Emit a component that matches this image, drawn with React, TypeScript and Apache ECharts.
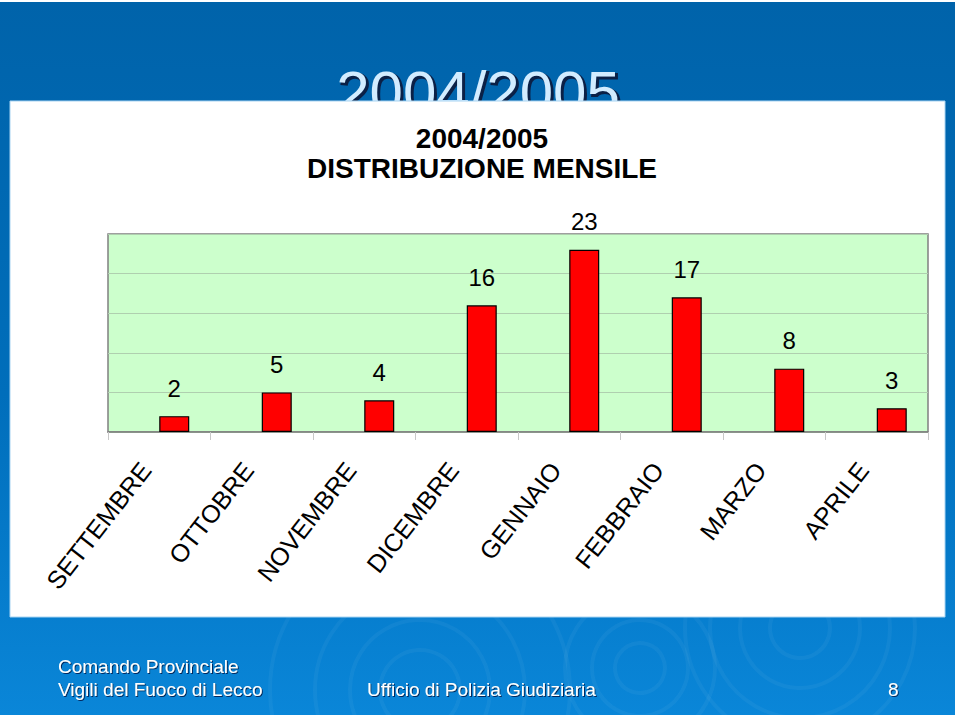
import React, { useEffect, useRef } from "react";
import * as echarts from "echarts";

const categories = ["SETTEMBRE", "OTTOBRE", "NOVEMBRE", "DICEMBRE", "GENNAIO", "FEBBRAIO", "MARZO", "APRILE"];
const counts = [2, 5, 4, 16, 23, 17, 8, 3];
const spacerSeries = [null, null, null, null, null, null, null, null];
const yMax = 25;
const yInterval = 5;
const slideTitle = "2004/2005";
const chartTitleLines = ["2004/2005", "DISTRIBUZIONE MENSILE"];
const footerLeft = ["Comando Provinciale", "Vigili del Fuoco di Lecco"];
const footerCenter = "Ufficio di Polizia Giudiziaria";
const pageNumber = "8";

const FONT = "'Liberation Sans', Arial, sans-serif";

export default function App() {
  const ref = useRef<HTMLDivElement>(null);

  useEffect(() => {
    if (!ref.current) return;
    const chart = echarts.init(ref.current, undefined, { renderer: "svg" });

    const ringStroke = "rgba(255,255,255,0.045)";
    const rings: any[] = [];
    const ringSets = [
      { cx: 420, cy: 690, r: [40, 70, 105, 150] },
      { cx: 640, cy: 668, r: [25, 48, 75] },
      { cx: 800, cy: 628, r: [30, 60, 90, 115] },
    ];
    ringSets.forEach((s) =>
      s.r.forEach((r) =>
        rings.push({
          type: "circle",
          z: -8,
          silent: true,
          shape: { cx: s.cx, cy: s.cy, r },
          style: { fill: "none", stroke: ringStroke, lineWidth: 4 },
        })
      )
    );

    const footerStyle = {
      fill: "#ffffff",
      fontSize: 19,
      fontFamily: FONT,
      textShadowColor: "rgba(0,0,40,0.7)",
      textShadowOffsetX: 1,
      textShadowOffsetY: 1,
      textShadowBlur: 1,
      textVerticalAlign: "middle",
    };

    const option: any = {
      animation: false,
      backgroundColor: "#ffffff",
      title: {
        text: chartTitleLines.join("\n"),
        left: 477,
        textAlign: "center",
        top: 118,
        textStyle: {
          fontFamily: FONT,
          fontSize: 28,
          fontWeight: "bold",
          color: "#000000",
          lineHeight: 30,
        },
      },
      graphic: [
        {
          type: "rect",
          z: -10,
          silent: true,
          shape: { x: 0, y: 2, width: 955, height: 713 },
          style: {
            fill: new echarts.graphic.LinearGradient(0, 0, 0, 1, [
              { offset: 0, color: "#0063AA" },
              { offset: 0.55, color: "#006EBB" },
              { offset: 1, color: "#0A86D8" },
            ]),
          },
        },
        ...rings,
        {
          type: "rect",
          z: -7,
          silent: true,
          shape: { x: 0, y: 715, width: 960, height: 5 },
          style: { fill: "#ffffff" },
        },
        {
          type: "rect",
          z: -7,
          silent: true,
          shape: { x: 955, y: 0, width: 5, height: 720 },
          style: { fill: "#ffffff" },
        },
        {
          type: "text",
          z: -6,
          silent: true,
          x: 480,
          y: 64,
          style: {
            text: slideTitle,
            fill: "#0B2147",
            stroke: "#0B2147",
            lineWidth: 2,
            fontSize: 60,
            fontFamily: FONT,
            textAlign: "center",
            textVerticalAlign: "top",
          },
        },
        {
          type: "text",
          z: -5,
          silent: true,
          x: 478,
          y: 62,
          style: {
            text: slideTitle,
            fill: "#D2ECFF",
            fontSize: 60,
            fontFamily: FONT,
            textAlign: "center",
            textVerticalAlign: "top",
          },
        },
        {
          type: "rect",
          z: -4,
          silent: true,
          shape: { x: 10, y: 101, width: 935, height: 516 },
          style: { fill: "#ffffff", stroke: "#A8D4F2", lineWidth: 1 },
        },
        {
          type: "text",
          z: 5,
          silent: true,
          x: 58,
          y: 666,
          style: { ...footerStyle, text: footerLeft[0] },
        },
        {
          type: "text",
          z: 5,
          silent: true,
          x: 58,
          y: 689,
          style: { ...footerStyle, text: footerLeft[1] },
        },
        {
          type: "text",
          z: 5,
          silent: true,
          x: 367,
          y: 689,
          style: { ...footerStyle, text: footerCenter },
        },
        {
          type: "text",
          z: 5,
          silent: true,
          x: 888,
          y: 689,
          style: { ...footerStyle, text: pageNumber },
        },
      ],
      grid: {
        left: 108,
        right: 32,
        top: 234,
        height: 198,
        show: true,
        backgroundColor: "#CCFFCC",
        borderColor: "#808080",
        borderWidth: 1.5,
        containLabel: false,
      },
      xAxis: {
        type: "category",
        data: categories,
        boundaryGap: true,
        axisLine: { show: true, lineStyle: { color: "#808080", width: 1.5 } },
        axisTick: { show: true, length: 8, lineStyle: { color: "#C8C8C8" } },
        axisLabel: {
          rotate: 52,
          margin: 16,
          padding: [0, 22, 0, 0],
          interval: 0,
          color: "#000000",
          fontSize: 25,
          fontFamily: FONT,
        },
        splitLine: { show: false },
      },
      yAxis: {
        type: "value",
        min: 0,
        max: yMax,
        interval: yInterval,
        axisLabel: { show: false },
        axisLine: { show: false },
        axisTick: { show: false },
        splitLine: { show: true, lineStyle: { color: "#AFCFAF", width: 1 } },
      },
      series: [
        {
          type: "bar",
          name: "spacer",
          data: spacerSeries,
          barWidth: 30,
          barGap: "0%",
          silent: true,
        },
        {
          type: "bar",
          name: "interventi",
          data: counts,
          barWidth: 30,
          barGap: "0%",
          itemStyle: { color: "#FF0000", borderColor: "#000000", borderWidth: 1.2 },
          label: {
            show: true,
            position: "top",
            distance: 16,
            color: "#000000",
            fontSize: 24,
            fontFamily: FONT,
          },
        },
      ],
    };

    chart.setOption(option);
    return () => chart.dispose();
  }, []);

  return (
    <div
      ref={ref}
      style={{ position: "fixed", left: 0, top: 0, width: 960, height: 720 }}
    />
  );
}
